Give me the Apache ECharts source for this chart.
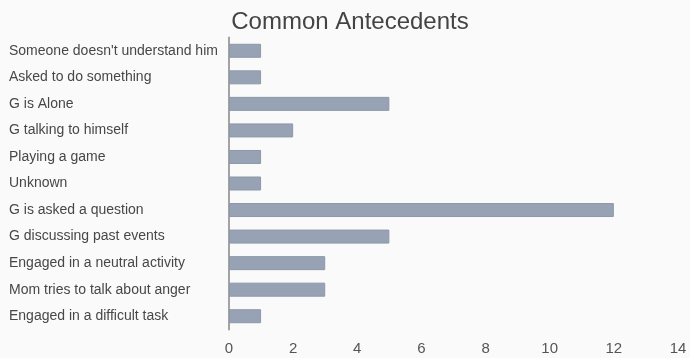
<!DOCTYPE html>
<html><head><meta charset="utf-8">
<style>html,body{margin:0;padding:0;background:#fafafa}#c{width:690px;height:358px}</style>
<script src="https://cdn.jsdelivr.net/npm/echarts@6/dist/echarts.min.js"></script>
</head><body><div id="c"></div>
<script>
const categories = ["Someone doesn't understand him","Asked to do something","G is Alone","G talking to himself","Playing a game","Unknown","G is asked a question","G discussing past events","Engaged in a neutral activity","Mom tries to talk about anger","Engaged in a difficult task"];
const values = [1,1,5,2,1,1,12,5,3,3,1];
const xTicks = [0,2,4,6,8,10,12,14];
const chart = echarts.init(document.getElementById('c'));
chart.setOption({
  backgroundColor:'#fafafa',
  animation:false,
  title:{text:'Common Antecedents',left:345,textAlign:'center',top:5,textStyle:{fontFamily:'Liberation Sans',fontSize:24,fontWeight:'normal',color:'#444'}},
  grid:{left:229,right:12,top:37.5,bottom:28.5,containLabel:false},
  xAxis:{type:'value',min:xTicks[0],max:xTicks[xTicks.length-1],interval:2,
    axisLine:{show:false},axisTick:{show:false},splitLine:{show:false},
    axisLabel:{fontFamily:'Liberation Sans',fontSize:15,color:'#555',margin:12}},
  yAxis:{type:'category',data:categories,inverse:true,
    axisLine:{show:true,lineStyle:{color:'#a3a3a3',width:2}},axisTick:{show:false},
    axisLabel:{fontFamily:'Liberation Sans',fontSize:14,color:'#474747',align:'left',margin:220}},
  series:[{type:'bar',data:values,barWidth:14,
    itemStyle:{color:'#97a3b4',borderColor:'#8c98a9',borderWidth:1}}]
});
</script></body></html>
